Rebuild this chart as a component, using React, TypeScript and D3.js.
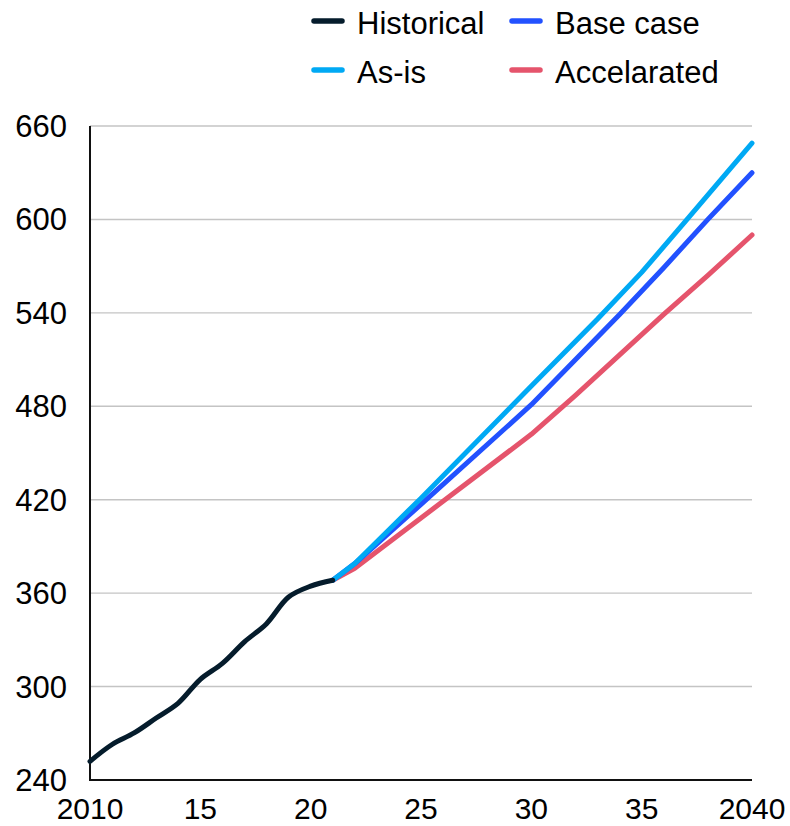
import React from "react";
import * as d3 from "d3";

// Historical series (yearly)
const historicalYears = [2010, 2011, 2012, 2013, 2014, 2015, 2016, 2017, 2018, 2019, 2020, 2021];
const historicalValues = [252, 262.8, 270.2, 279.8, 289.4, 304.7, 314.9, 328.7, 340.4, 357.5, 364.5, 368.3];

// Scenario projections
const asIsYears = [2021, 2022, 2025, 2030, 2033, 2035, 2037, 2040];
const asIsValues = [368.3, 379, 421, 493, 536, 566, 599, 649];

const baseYears = [2021, 2022, 2025, 2030, 2034, 2036, 2038, 2040];
const baseValues = [368.3, 379, 417, 481, 539, 569, 600, 630];

const accelYears = [2021, 2022, 2026, 2030, 2032, 2034, 2036, 2038, 2040];
const accelValues = [368.3, 376, 419, 462, 487, 513, 539, 564, 590];

const yTicks = [240, 300, 360, 420, 480, 540, 600, 660];
const xTicks = [2010, 2015, 2020, 2025, 2030, 2035, 2040];
const xTickLabels = ["2010", "15", "20", "25", "30", "35", "2040"];

const legendItems = [
  { name: "Historical", color: "#051C2C" },
  { name: "Base case", color: "#2251FF" },
  { name: "As-is", color: "#00A9F4" },
  { name: "Accelarated", color: "#E5546C" },
];

const W = 790;
const H = 826;
const FONT = "'Liberation Sans', Arial, sans-serif";

export default function App() {
  const x = d3.scaleLinear().domain([2010, 2040]).range([90, 752]);
  const y = d3.scaleLinear().domain([240, 660]).range([780, 126]);

  type P = [number, number];
  const zip = (xs: number[], vs: number[]): P[] => xs.map((t, i) => [t, vs[i]]);

  const smooth = d3
    .line<P>()
    .x((d) => x(d[0]))
    .y((d) => y(d[1]))
    .curve(d3.curveCatmullRom.alpha(0.5));
  const straight = d3
    .line<P>()
    .x((d) => x(d[0]))
    .y((d) => y(d[1]));

  const series = [
    { d: straight(zip(accelYears, accelValues)), color: "#E5546C" },
    { d: straight(zip(baseYears, baseValues)), color: "#2251FF" },
    { d: straight(zip(asIsYears, asIsValues)), color: "#00A9F4" },
    { d: smooth(zip(historicalYears, historicalValues)), color: "#051C2C" },
  ];

  const legendPos = [
    { sx: 314, tx: 357, y: 21, base: 34 },
    { sx: 512, tx: 555, y: 21, base: 34 },
    { sx: 314, tx: 357, y: 70, base: 83 },
    { sx: 512, tx: 555, y: 70, base: 83 },
  ];

  return (
    <div style={{ position: "fixed", left: 0, top: 0 }}>
      <svg width={W} height={H} style={{ display: "block", background: "#fff" }}>
        {/* gridlines */}
        {yTicks.slice(1).map((t) => (
          <line key={t} x1={90} x2={752} y1={y(t)} y2={y(t)} stroke="#c4c4c4" strokeWidth={1.4} />
        ))}
        {/* axes */}
        <line x1={90} x2={90} y1={y(660)} y2={y(240)} stroke="#111" strokeWidth={2} />
        <line x1={89} x2={752} y1={y(240)} y2={y(240)} stroke="#111" strokeWidth={2} />
        {/* y tick labels */}
        {yTicks.map((t) => (
          <text
            key={t}
            x={67}
            y={y(t) + 11}
            textAnchor="end"
            fontFamily={FONT}
            fontSize={31}
            fill="#000"
          >
            {t}
          </text>
        ))}
        {/* x tick labels */}
        {xTicks.map((t, i) => (
          <text
            key={t}
            x={x(t)}
            y={819}
            textAnchor="middle"
            fontFamily={FONT}
            fontSize={30}
            fill="#000"
          >
            {xTickLabels[i]}
          </text>
        ))}
        {/* series */}
        {series.map((s, i) => (
          <path
            key={i}
            d={s.d || ""}
            fill="none"
            stroke={s.color}
            strokeWidth={5}
            strokeLinejoin="round"
            strokeLinecap="round"
          />
        ))}
        {/* legend */}
        {legendItems.map((item, i) => {
          const p = legendPos[i];
          return (
            <g key={item.name}>
              <line
                x1={p.sx}
                x2={p.sx + 28}
                y1={p.y}
                y2={p.y}
                stroke={item.color}
                strokeWidth={5.5}
                strokeLinecap="round"
              />
              <text x={p.tx} y={p.base} fontFamily={FONT} fontSize={31} fill="#000">
                {item.name}
              </text>
            </g>
          );
        })}
      </svg>
    </div>
  );
}
